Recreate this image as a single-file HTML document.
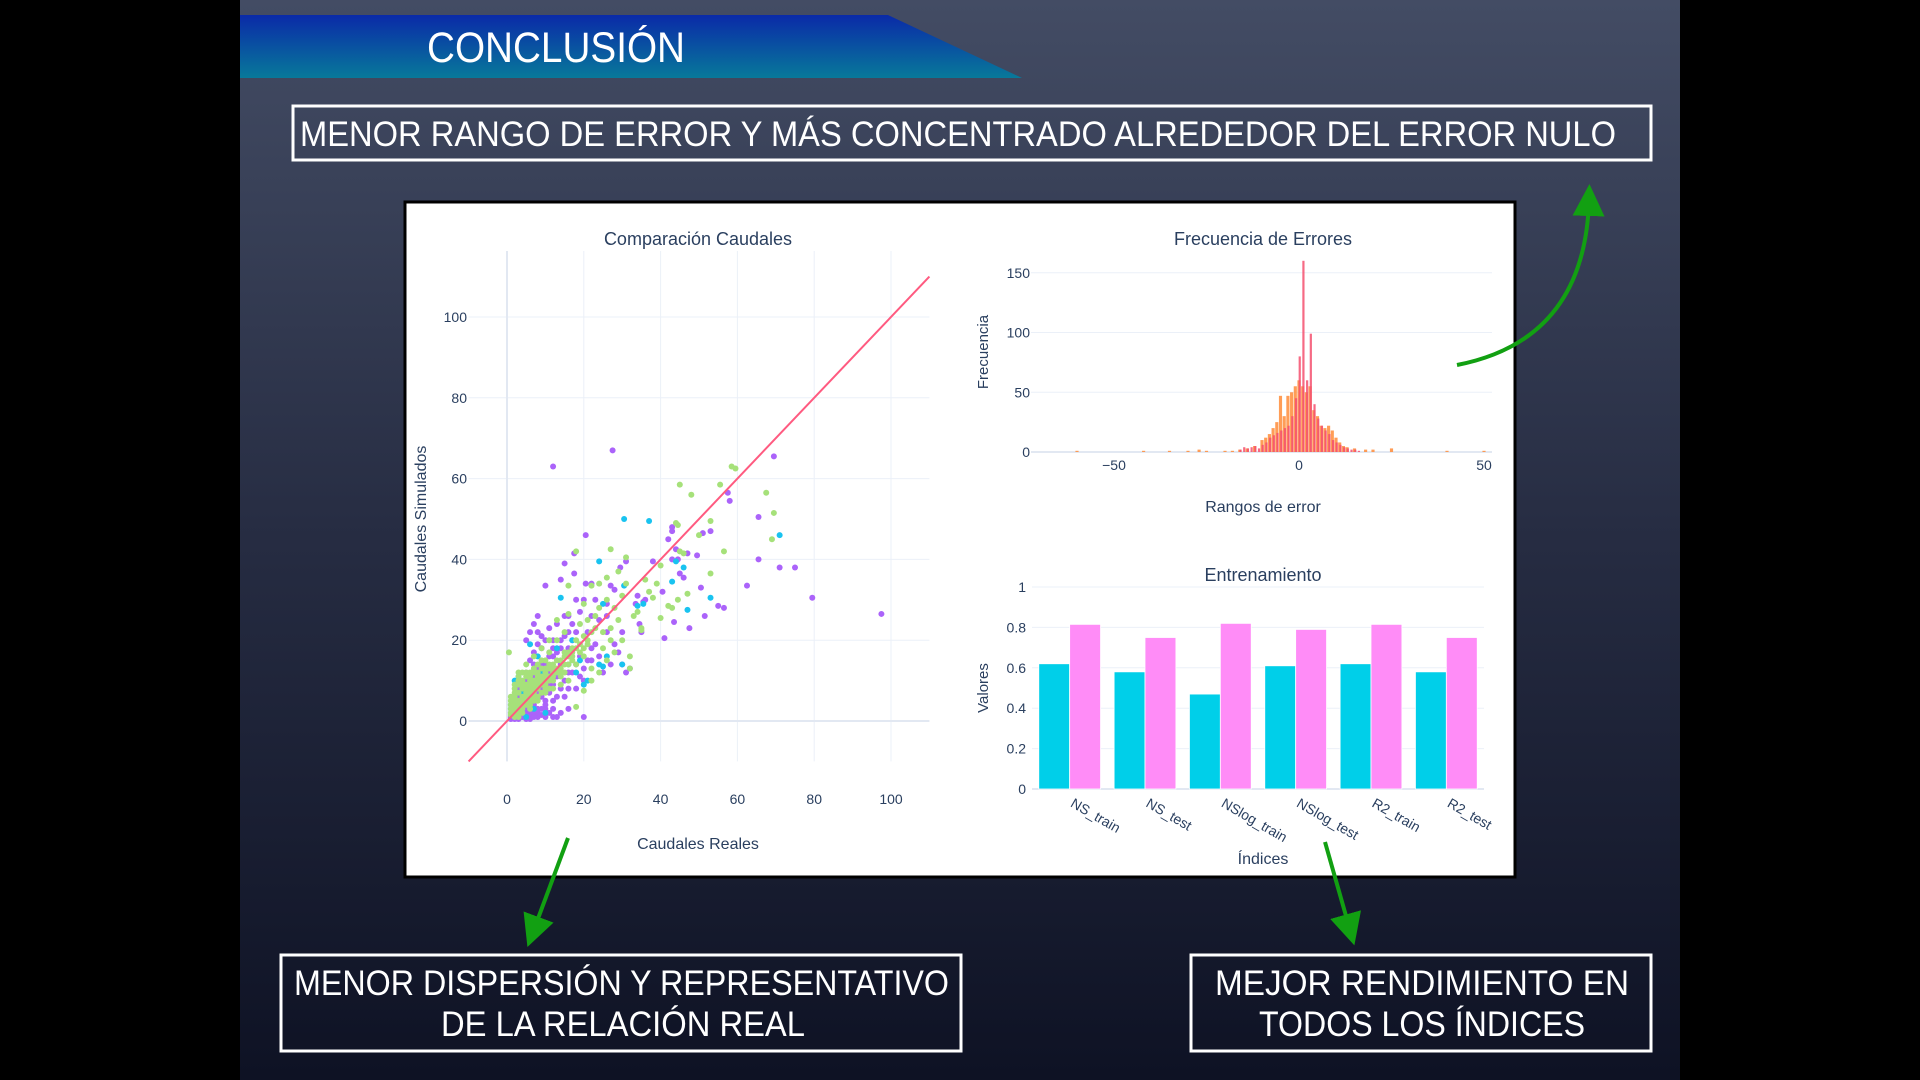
<!DOCTYPE html>
<html><head><meta charset="utf-8"><style>
html,body{margin:0;padding:0;background:#000;width:1920px;height:1080px;overflow:hidden}
svg{display:block}
.tk{font-family:"Liberation Sans",sans-serif;font-size:14px;fill:#2a3f5f}
.ttl{font-family:"Liberation Sans",sans-serif;font-size:18px;fill:#2a3f5f}
.big{font-family:"Liberation Sans Narrow","Liberation Sans",sans-serif;fill:#fff}
</style></head><body>
<svg id="page" width="1920" height="1080" xmlns="http://www.w3.org/2000/svg">
<defs>
<linearGradient id="bg" x1="0" y1="0" x2="0" y2="1"><stop offset="0" stop-color="#434c64"/><stop offset="0.5" stop-color="#262c42"/><stop offset="1" stop-color="#0e1224"/></linearGradient>
<linearGradient id="ban" x1="0" y1="0" x2="0" y2="1"><stop offset="0" stop-color="#0a2aa8"/><stop offset="1" stop-color="#08799a"/></linearGradient>
<marker id="ah" markerWidth="8" markerHeight="8" refX="4" refY="4" orient="auto" markerUnits="strokeWidth"><path d="M0,0 L8,4 L0,8 z" fill="#12a012"/></marker>
</defs>
<rect x="0" y="0" width="1920" height="1080" fill="#000"/>
<rect x="240" y="0" width="1440" height="1080" fill="url(#bg)"/>
<polygon points="240,15 888,15 1022,78 240,78" fill="url(#ban)"/>
<text x="556" y="62" text-anchor="middle" class="big" font-size="43" textLength="258" lengthAdjust="spacingAndGlyphs">CONCLUSIÓN</text>
<g>
<rect x="293" y="106" width="1358" height="54" fill="none" stroke="#fff" stroke-width="3"/>
<text x="300" y="146" class="big" font-size="35" textLength="1316" lengthAdjust="spacingAndGlyphs">MENOR RANGO DE ERROR Y MÁS CONCENTRADO ALREDEDOR DEL ERROR NULO</text>
</g>
<g>
<rect x="281" y="955" width="680" height="96" fill="none" stroke="#fff" stroke-width="3"/>
<text x="294" y="995" class="big" font-size="35" textLength="655" lengthAdjust="spacingAndGlyphs">MENOR DISPERSIÓN Y REPRESENTATIVO</text>
<text x="441" y="1036" class="big" font-size="35" textLength="364" lengthAdjust="spacingAndGlyphs">DE LA RELACIÓN REAL</text>
</g>
<g>
<rect x="1191" y="955" width="460" height="96" fill="none" stroke="#fff" stroke-width="3"/>
<text x="1215" y="995" class="big" font-size="35" textLength="414" lengthAdjust="spacingAndGlyphs">MEJOR RENDIMIENTO EN</text>
<text x="1259" y="1036" class="big" font-size="35" textLength="326" lengthAdjust="spacingAndGlyphs">TODOS LOS ÍNDICES</text>
</g>
<rect x="405" y="202" width="1110" height="675" fill="#fff" stroke="#000" stroke-width="3"/>
<g id="scatter"></g>
<g id="hist"></g>
<g id="bars"></g>
<path d="M1457,365 Q1585,340 1589,200" fill="none" stroke="#12a012" stroke-width="4" marker-end="url(#ah)"/>
<path d="M568,838 L533,932" fill="none" stroke="#12a012" stroke-width="4" marker-end="url(#ah)"/>
<path d="M1325,842 L1350,930" fill="none" stroke="#12a012" stroke-width="4" marker-end="url(#ah)"/>
</svg>
<script>
const NS="http://www.w3.org/2000/svg";
// ---- scatter data ----
const scatterXTicks=[0,20,40,60,80,100];
const scatterYTicks=[0,20,40,60,80,100];
const purplePts=[[12,63],[27.5,67],[97.5,26.5],[79.5,30.5],[69.5,65.5],[71,38],[75,38],[65.5,50.5],[65.5,40],[62.5,33.5],[58,54.5],[57.5,56.5],[56.5,28],[55,28.5],[51.5,26],[50.5,33],[53,47],[51,46.5],[47,41.5],[49.5,41],[47.5,23],[43,48],[43,47],[42,45],[44,42.5],[43,40],[44.5,40],[45,36.5],[46,35.5],[43.5,24.5],[40.5,32],[41,20.5],[38,39.5],[35.5,29.5],[35,22],[33.5,29],[34.5,24],[31,39.5],[29.5,38],[28,32.5],[26,29],[27,33.5],[20.5,46],[17.5,41.5],[15,39],[14,35],[17.5,36.5],[10,33.5],[20.5,34],[22,34],[23,30],[20,30],[19,27],[15,26],[13,24],[11,23],[8,26],[7,24],[6,22],[5,20],[9,18],[12,20],[16,18],[18,22],[24,25],[26,22],[28,19],[30,14],[25,12],[22,15],[20,10],[18,8],[15,6],[12,5],[10,3],[8,1],[6,2],[5,0.5],[3,0.5],[2,1],[4,2],[7,4],[9,6],[11,9],[13,11],[14,14],[16,12],[19,16],[17,20],[21,22],[23,19],[24,16],[27,14],[29,17],[31,12],[32,13],[20,1],[16,3],[13,1],[10,5],[11,12],[8,10],[6,8],[4,6],[3,4],[2,3],[1,2],[7,14],[9,14],[5,12],[3,8],[12,16],[14,18],[10,20],[8,22],[16,26],[18,30],[22,26],[26,26],[30,22],[34,31],[36,30],[4,1],[6,1],[7,2],[9,3],[5,3],[3,1.5],[1,1],[2,0.5],[8,3],[10,1],[12,3],[14,2],[1,0.5],[2,2],[3,2.5],[4,3.5],[5,5],[6,4],[7,6],[8,7],[9,8],[10,9],[11,7],[12,9],[13,6],[14,8],[15,10],[16,8],[17,12],[18,14],[19,11],[20,13],[21,15],[22,18],[6,10],[7,11],[8,13],[9,12],[10,14],[11,16],[12,18],[13,17],[14,20],[15,21],[16,22],[17,24],[4,9],[5,10],[3,6],[2,5],[6,15],[7,17],[8,19],[9,21],[5,2],[6,0.5],[7,1],[8,2],[9,1.5],[10,4],[11,2],[12,1],[4,4],[3,3]];
const greenPts=[[0.5,17],[45,58.5],[48,56],[55.5,58.5],[58.5,63],[59.5,62.5],[67.5,56.5],[69.5,51.5],[69,45],[56.5,42],[53,36.5],[53,49.5],[50,46],[44,49],[44.5,48.5],[45,42],[46,41.5],[40,38.5],[43,28],[40,25.5],[42,28.5],[38,30.5],[39,34],[47,31.5],[44.5,30],[36,35],[35,23],[35,22.5],[32,16],[32,13],[31,40.5],[29,37],[31,34],[27,42.5],[26,35.5],[24,34],[22,33.5],[16,33.5],[18,42],[16,26.5],[20,29],[23,26],[25,22],[27,23],[29,25],[30,20],[28,17],[26,15],[24,12],[22,10],[20,7.5],[18,3.5],[17,15],[15,17],[13,20],[11,17],[9,15],[7,13],[5,11],[3,10],[2,7],[1,5],[2,4],[3,3],[4,5],[5,7],[6,6],[7,9],[8,8],[9,11],[10,12],[11,13],[12,14],[13,15],[14,13],[15,14],[16,16],[17,18],[18,20],[19,19],[20,21],[21,20],[22,22],[23,23],[20,16],[18,14],[16,10],[14,9],[12,8],[10,7],[8,5],[6,4],[4,3],[3,2],[2,2],[1,1.5],[4,8],[6,10],[8,12],[10,10],[12,11],[14,11],[22,13],[25,18],[27,20],[33,26],[34,27],[37,32],[15,22],[13,25],[11,20],[9,18],[7,16],[5,14],[3,12],[19,24],[21,25],[24,28],[26,30],[28,28],[30,31],[5,5],[6,3],[7,6],[3,5],[4,9],[2,6],[1,3],[2,5],[3,7],[4,4],[5,9],[6,7],[7,8],[8,9],[9,9],[10,9],[11,10],[12,12],[6,12],[8,14],[10,15],[1,2],[2,3],[3,4],[4,6],[5,6],[6,8],[7,7],[8,10],[9,10],[10,11],[11,11],[12,13],[13,13],[14,15],[15,16],[16,17],[17,17],[18,18],[2,8],[3,9],[4,10],[5,12],[6,11],[7,12],[8,11],[9,13],[10,13],[11,14],[1,6],[2,9],[3,11],[4,12],[5,8],[6,9],[7,10],[1,4],[2,1],[3,1],[4,2],[5,4],[6,5],[7,5],[8,6],[9,7],[10,8],[11,8],[12,10],[13,12],[14,12],[15,12],[16,14],[17,16],[19,17],[20,18],[21,19]];
const cyanPts=[[30.5,50],[37,49.5],[71,46],[24,39.5],[44,39.5],[46,38],[43,34.5],[47,27.5],[53,30.5],[30.5,33.5],[14,30.5],[25,29],[34,28.5],[35.5,29],[26,16],[30,14],[25,13.5],[24,14],[21,10],[20,9],[17,20],[16,14],[13,18],[8,16],[6,19],[3,11],[2,10],[1,4],[4,7],[9,12],[12,13],[18,12],[10,2],[7,3],[5,1],[2,6],[3,7],[4,5],[5,8],[6,7],[1,3],[8,9],[11,11],[14,12],[19,15]];
// ---- histogram data ----
const histOrangeBins=[-60,-42,-35,-30,-27,-25,-20,-18,-16,-14,-12,-10,-9,-8,-7,-6,-5,-4,-3,-2,-1,0,1,2,3,4,5,6,7,8,9,10,11,12,13,15,18,20,25,40,50];
const histOrangeCounts=[1,1,1,1,2,1,1,1,2,3,5,10,12,15,20,25,47,30,47,50,55,60,55,50,55,35,30,22,20,22,18,12,8,5,4,3,2,2,3,1,1];
const histPinkBins=[-16,-15,-14,-13,-12,-11,-10,-9,-8,-7,-6,-5,-4,-3,-2,-1,0,1,2,3,4,5,6,7,8,9,10,11,12,13,14,15,16];
const histPinkCounts=[2,4,3,4,5,3,6,8,12,14,16,18,20,22,30,45,80,160,60,99,40,28,22,18,15,10,8,6,4,3,2,2,1];
const histXTicks=[-50,0,50];
const histYTicks=[0,50,100,150];
// ---- bar data ----
const barCategories=["NS_train","NS_test","NSlog_train","NSlog_test","R2_train","R2_test"];
const barCyanValues=[0.62,0.58,0.47,0.61,0.62,0.58];
const barPinkValues=[0.815,0.75,0.82,0.79,0.815,0.75];
const barYTicks=[0,0.2,0.4,0.6,0.8,1];

function mk(tag,attrs,parent,txt){const e=document.createElementNS(NS,tag);for(const k in attrs)e.setAttribute(k,attrs[k]);if(txt!==undefined)e.textContent=txt;parent.appendChild(e);return e;}

// scatter
(function(){
const g=document.getElementById('scatter');
const sx=v=>507+v*3.84, sy=v=>721-v*4.04;
const L=sx(-10),R=sx(110),T=251,B=sy(-10);
scatterXTicks.forEach(t=>{const l=mk('line',{x1:sx(t),x2:sx(t),y1:T,y2:B,stroke:'#ebf0f8','stroke-width':1},g);
const tx=mk('text',{x:sx(t),y:804,'text-anchor':'middle',class:'tk'},g,String(t));});
scatterYTicks.forEach(t=>{const l=mk('line',{x1:L,x2:R,y1:sy(t),y2:sy(t),stroke:'#ebf0f8','stroke-width':1},g);
const tx=mk('text',{x:467,y:sy(t)+5,'text-anchor':'end',class:'tk'},g,String(t));});
const z1=mk('line',{x1:sx(0),x2:sx(0),y1:T,y2:B,stroke:'#e2e8f2','stroke-width':2},g);
const z2=mk('line',{x1:L,x2:R,y1:sy(0),y2:sy(0),stroke:'#e2e8f2','stroke-width':2},g);
[[purplePts,'#ab63fa','purple-point'],[cyanPts,'#19c3f0','cyan-point'],[greenPts,'#a6e17a','green-point']].forEach(([pts,c,n])=>{
pts.forEach(p=>{const ci=mk('circle',{cx:sx(p[0]),cy:sy(p[1]),r:3,fill:c},g);});});
const ln=mk('line',{x1:sx(-10),y1:sy(-10),x2:sx(110),y2:sy(110),stroke:'#ff5a80','stroke-width':2},g);
const t1=mk('text',{x:698,y:245,'text-anchor':'middle',class:'ttl'},g,'Comparación Caudales');
const t2=mk('text',{x:698,y:849,'text-anchor':'middle',class:'ttl',style:'font-size:16px'},g,'Caudales Reales');
const t3=mk('text',{x:426,y:519,'text-anchor':'middle',class:'ttl',style:'font-size:16px',transform:'rotate(-90 426 519)'},g,'Caudales Simulados');
})();

// histogram
(function(){
const g=document.getElementById('hist');
const hx=v=>1299+v*3.7, hy=v=>452-v*1.195;
const L=1031,R=1492;
histYTicks.forEach(t=>{const l=mk('line',{x1:L,x2:R,y1:hy(t),y2:hy(t),stroke:t===0?'#e2e8f2':'#ebf0f8','stroke-width':t===0?2:1},g);
const tx=mk('text',{x:1030,y:hy(t)+5,'text-anchor':'end',class:'tk'},g,String(t));});
histXTicks.forEach(t=>{const tx=mk('text',{x:hx(t),y:470,'text-anchor':'middle',class:'tk'},g,t<0?'\u2212'+Math.abs(t):String(t));});
const w=3.7*0.85;
histOrangeBins.forEach((b,i)=>{const v=histOrangeCounts[i];const r=mk('rect',{x:hx(b)-w/2,y:hy(v),width:w,height:hy(0)-hy(v),fill:'#ff8c3a',opacity:0.85},g);});
histPinkBins.forEach((b,i)=>{const v=histPinkCounts[i];const r=mk('rect',{x:hx(b)-w/2+1.2,y:hy(v),width:w*0.7,height:hy(0)-hy(v),fill:'#f5506e',opacity:0.85},g);});
const t1=mk('text',{x:1263,y:245,'text-anchor':'middle',class:'ttl'},g,'Frecuencia de Errores');
const t2=mk('text',{x:1263,y:512,'text-anchor':'middle',class:'ttl',style:'font-size:16px'},g,'Rangos de error');
const t3=mk('text',{x:988,y:352,'text-anchor':'middle',class:'ttl',style:'font-size:15px',transform:'rotate(-90 988 352)'},g,'Frecuencia');
})();

// bars
(function(){
const g=document.getElementById('bars');
const by=v=>789-v*202;
const L=1032,R=1484,cw=(R-L)/barCategories.length;
barYTicks.forEach(t=>{const l=mk('line',{x1:L,x2:R,y1:by(t),y2:by(t),stroke:t===0?'#e2e8f2':'#ebf0f8','stroke-width':t===0?2:1},g);
const tx=mk('text',{x:1026,y:by(t)+5,'text-anchor':'end',class:'tk'},g,String(t));});
barCategories.forEach((c,i)=>{const x0=L+i*cw;const bw=cw*0.41;
const a=mk('rect',{x:x0+cw*0.09,y:by(barCyanValues[i]),width:bw,height:by(0)-by(barCyanValues[i]),fill:'#00cfe9',stroke:'#fff','stroke-width':0.8},g);
const b=mk('rect',{x:x0+cw*0.5,y:by(barPinkValues[i]),width:bw,height:by(0)-by(barPinkValues[i]),fill:'#ff8cf7',stroke:'#fff','stroke-width':0.8},g);
const cx=x0+cw/2;
const tx=mk('text',{x:cx,y:806,class:'tk',transform:'rotate(30 '+cx+' 806)'},g,c);});
const t1=mk('text',{x:1263,y:581,'text-anchor':'middle',class:'ttl'},g,'Entrenamiento');
const t2=mk('text',{x:1263,y:864,'text-anchor':'middle',class:'ttl',style:'font-size:16px'},g,'Índices');
const t3=mk('text',{x:988,y:688,'text-anchor':'middle',class:'ttl',style:'font-size:15px',transform:'rotate(-90 988 688)'},g,'Valores');
})();
</script>
</body></html>
